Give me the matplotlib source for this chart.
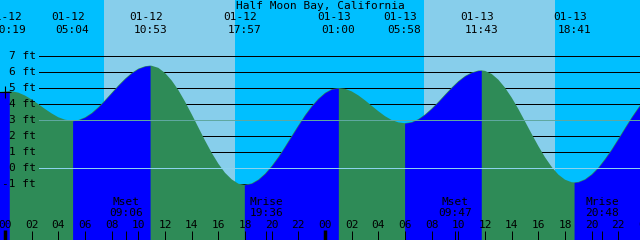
import matplotlib.pyplot as plt
from matplotlib.transforms import offset_copy

# tide height (ft), hours after 01-12 00:00
tide_hours = [-0.5, 0, 0.32, 0.5, 1, 1.5, 2, 2.5, 3, 3.5, 4, 4.5, 5.07, 5.5,
              6, 6.5, 7, 7.5, 8, 8.5, 9, 9.5, 10, 10.5, 10.88, 11, 11.5, 12,
              12.5, 13, 13.5, 14, 14.5, 15, 15.5, 16, 16.5, 17, 17.5, 17.95,
              18.5, 19, 19.5, 20, 20.5, 21, 21.5, 22, 22.5, 23, 23.5, 24,
              24.5, 25, 25.5, 26, 26.5, 27, 27.5, 28, 28.5, 29, 29.5, 29.97,
              30.5, 31, 31.5, 32, 32.5, 33, 33.5, 34, 34.5, 35, 35.5, 35.72,
              36, 36.5, 37, 37.5, 38, 38.5, 39, 39.5, 40, 40.5, 41, 41.5, 42,
              42.5, 42.68, 43, 43.5, 44, 44.5, 45, 45.5, 46, 46.5, 47, 47.5, 48]
tide_ft = [4.74, 4.78, 4.80, 4.79, 4.71, 4.53, 4.28, 3.99, 3.69, 3.41, 3.17,
           3.02, 2.95, 3.00, 3.17, 3.44, 3.81, 4.24, 4.70, 5.16, 5.58, 5.94,
           6.21, 6.36, 6.40, 6.39, 6.26, 5.94, 5.47, 4.87, 4.15, 3.36, 2.54,
           1.72, 0.95, 0.27, -0.30, -0.71, -0.98, -1.05, -0.96, -0.72, -0.35,
           0.13, 0.70, 1.34, 2.01, 2.67, 3.31, 3.87, 4.34, 4.70, 4.93, 5.00,
           4.95, 4.79, 4.54, 4.23, 3.89, 3.55, 3.24, 3.00, 2.85, 2.80, 2.87,
           3.06, 3.35, 3.72, 4.14, 4.59, 5.03, 5.43, 5.75, 5.97, 6.09, 6.10,
           6.07, 5.88, 5.52, 5.02, 4.40, 3.69, 2.91, 2.13, 1.37, 0.67, 0.07,
           -0.41, -0.73, -0.89, -0.90, -0.87, -0.70, -0.39, 0.03, 0.57, 1.17,
           1.83, 2.51, 3.17, 3.78, 4.32]

# high / low tide events along the top
event_dates = ["01-12", "01-12", "01-12", "01-12", "01-13", "01-13", "01-13", "01-13"]
event_times = ["00:19", "05:04", "10:53", "17:57", "01:00", "05:58", "11:43", "18:41"]

# moon events along the bottom
moon_dates = ["01-12", "01-12", "01-13", "01-13"]
moon_names = ["Mset", "Mrise", "Mset", "Mrise"]
moon_times = ["09:06", "19:36", "09:47", "20:48"]

sunrise_hours = [7.42, 31.42]
sunset_hours = [17.25, 41.25]

depth_ft = [7, 6, 5, 4, 3, 2, 1, 0, -1]
hour_ticks = list(range(0, 50, 2))

NIGHT = "#00BFFF"
DAY = "#87CEEB"
FLOOD = "#0000FF"
EBB = "#2E8B57"
MSL = "#5FA8A0"
DATUM = "#8CD2EE"
FONT = dict(family="DejaVu Sans Mono", fontsize=8, color="black")


def to_hours(date, hhmm):
    h, m = hhmm.split(":")
    return 24 * (int(date[-2:]) - 12) + int(h) + int(m) / 60


event_hours = [to_hours(d, t) for d, t in zip(event_dates, event_times)]
moon_hours = [to_hours(d, t) for d, t in zip(moon_dates, moon_times)]

fig = plt.figure(figsize=(6.4, 2.4), dpi=100, facecolor=NIGHT)
ax = fig.add_axes([0, 0, 1, 1])
ax.set_xlim(-0.375, 47.625)
ax.set_ylim(-4.5, 10.5)
ax.set_axis_off()
bottom = -4.5

for rise, dusk in zip(sunrise_hours, sunset_hours):
    ax.axvspan(rise, dusk, color=DAY, lw=0, zorder=0)

# depth lines, the black ones sit behind the water
for d in depth_ft:
    if d == 3:
        color, z = MSL, 3
    elif d == 0:
        color, z = DATUM, 3
    else:
        color, z = "black", 1
    ax.axhline(d, xmin=39 / 640, color=color, lw=0.72, zorder=z, antialiased=False)
    ax.text(36 / 640, d, f"{d} ft", transform=ax.get_yaxis_transform(),
            ha="right", va="center", zorder=4, **FONT)

# water: green everywhere, then blue over each rising stretch
ax.fill_between(tide_hours, tide_ft, bottom, color=EBB, lw=0, zorder=2)
start = None
for i in range(len(tide_hours) - 1):
    rising = tide_ft[i + 1] > tide_ft[i]
    if rising and start is None:
        start = i
    if start is not None and (not rising or i == len(tide_hours) - 2):
        end = i + 1 if rising else i
        ax.fill_between(tide_hours[start:end + 1], tide_ft[start:end + 1], bottom,
                        color=FLOOD, lw=0, zorder=2)
        start = None

ax.plot(tide_hours[1], tide_ft[1], "+", color="black", ms=8, mew=0.8, zorder=4)

ax.text(0.5, 0.975, "Half Moon Bay, California", transform=ax.transAxes,
        ha="center", va="center", zorder=4, **FONT)
xt = ax.get_xaxis_transform()
date_tr = offset_copy(xt, fig=fig, x=-4, units="dots")
for h, d, t in zip(event_hours, event_dates, event_times):
    ax.text(h, 0.931, d, transform=date_tr, ha="center", va="center", zorder=4, **FONT)
    ax.text(h, 0.877, t, transform=xt, ha="center", va="center", zorder=4, **FONT)

for h, n, t in zip(moon_hours, moon_names, moon_times):
    ax.text(h, 0.158, n, transform=xt, ha="center", va="center", zorder=4, **FONT)
    ax.text(h, 0.111, t, transform=xt, ha="center", va="center", zorder=4, **FONT)
    ax.vlines(h, 0, 0.0375, transform=xt, color="black", lw=0.72, zorder=4)

for h in hour_ticks:
    ax.text(h, 0.0625, f"{h % 24:02d}", transform=xt, ha="center",
            va="center", zorder=4, **FONT)
    if h % 24 == 0:
        ax.vlines(h, 0, 0.04, transform=xt, color="black", lw=2.5, zorder=4)
    else:
        ax.vlines(h, 0, 0.0375, transform=xt, color="black", lw=0.72, zorder=4)

fig.savefig("out.png", dpi=100)
